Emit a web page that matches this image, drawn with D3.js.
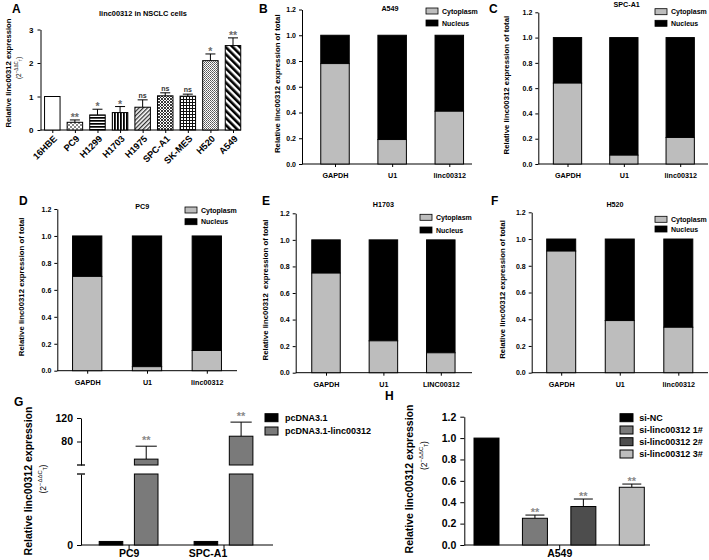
<!DOCTYPE html>
<html><head><meta charset="utf-8">
<script src="https://cdn.jsdelivr.net/npm/d3@7"></script>
<style>
body{margin:0;background:#fff}
svg{display:block}
text{font-family:"Liberation Sans",Arial,sans-serif;font-weight:bold}
</style>
</head><body>
<svg id="c" width="709" height="560"></svg>
<script>
// ---------- DATA ----------
// Panel A
const cellLines = ["16HBE","PC9","H1299","H1703","H1975","SPC-A1","SK-MES","H520","A549"];
const cellExpr  = [1.0, 0.23, 0.45, 0.52, 0.68, 1.02, 1.01, 2.07, 2.52];
const cellErr   = [0, 0.07, 0.17, 0.18, 0.22, 0.09, 0.06, 0.20, 0.23];
const cellSig   = ["", "**", "*", "*", "ns", "ns", "ns", "*", "**"];
const aTicks    = [0, 1, 2, 3];

// Panels B-F (fraction in cytoplasm; nucleus = 1 - cytoplasm)
const fracCats   = ["GAPDH", "U1", "linc00312"];
const fracCatsE  = ["GAPDH", "U1", "LINC00312"];
const cytoA549   = [0.78, 0.19, 0.41];
const cytoSPCA1  = [0.64, 0.07, 0.21];
const cytoPC9    = [0.70, 0.03, 0.15];
const cytoH1703  = [0.75, 0.24, 0.15];
const cytoH520   = [0.91, 0.39, 0.34];
const fracTicks  = [0, 0.2, 0.4, 0.6, 0.8, 1.0, 1.2];
const fracLegend = ["Cytoplasm", "Nucleus"];

// Panel G
const gGroups   = ["PC9", "SPC-A1"];
const gSeries   = ["pcDNA3.1", "pcDNA3.1-linc00312"];
const gCtrl     = [1, 1];
const gOver     = [50, 89];
const gOverErr  = [22, 24];
const gTicksUp  = [80, 120];
const gTicksLow = [0];

// Panel H
const hSeries = ["si-NC", "si-linc00312 1#", "si-linc00312 2#", "si-linc00312 3#"];
const hVals   = [1.0, 0.25, 0.36, 0.54];
const hErr    = [0, 0.03, 0.07, 0.03];
const hSig    = ["", "**", "**", "**"];
const hTicks  = [0, 0.2, 0.4, 0.6, 0.8, 1.0, 1.2];

// ---------- DRAWING ----------
const svg = d3.select("#c");
const defs = svg.append("defs");

function pat(id, w, h, draw, tr){
  const p = defs.append("pattern").attr("id", id).attr("patternUnits","userSpaceOnUse")
    .attr("width", w).attr("height", h);
  if (tr) p.attr("patternTransform", tr);
  p.append("rect").attr("width", w).attr("height", h).attr("fill", "#fff");
  draw(p);
}
pat("p0",4,4,p=>{});
pat("p1",4,4,p=>{p.append("rect").attr("width",2).attr("height",2).attr("fill","#8a8a8a");
                 p.append("rect").attr("x",2).attr("y",2).attr("width",2).attr("height",2).attr("fill","#8a8a8a");});
pat("p2",4,3,p=>{p.append("rect").attr("width",4).attr("height",1.7).attr("fill","#000");});
pat("p3",3,4,p=>{p.append("rect").attr("width",1.8).attr("height",4).attr("fill","#000");});
pat("p4",3,3,p=>{p.append("rect").attr("width",1.3).attr("height",3).attr("fill","#333");},"rotate(45)");
pat("p5",3,3,p=>{p.append("path").attr("d","M0,0L3,3M3,0L0,3").attr("stroke","#222").attr("stroke-width",0.9);});
pat("p6",3,3,p=>{p.append("path").attr("d","M0.5,0V3M0,0.5H3").attr("stroke","#111").attr("stroke-width",1);});
pat("p7",2,2,p=>{p.append("rect").attr("width",1).attr("height",1).attr("fill","#555");
                 p.append("rect").attr("x",1).attr("y",1).attr("width",1).attr("height",1).attr("fill","#777");});
pat("p8",5,5,p=>{p.append("rect").attr("width",2.6).attr("height",5).attr("fill","#000");},"rotate(-45)");
const aFills = ["p0","p1","p2","p3","p4","p5","p6","p7","p8"];

function styleAxis(g, fs){
  g.attr("font-family", null).attr("font-size", null);
  g.selectAll("text").style("font-size", fs + "px").style("font-weight","bold").attr("fill","#000");
  g.selectAll("line,path").attr("stroke","#000").attr("stroke-width",1);
}
function label(x, y, t, fs, anchor){
  return svg.append("text").attr("x",x).attr("y",y).attr("text-anchor",anchor||"start")
    .style("font-size",fs+"px").text(t);
}
function vlabel(x, y, t, fs){
  return svg.append("text").attr("transform",`translate(${x},${y}) rotate(-90)`)
    .attr("text-anchor","middle").attr("dy","0.35em").style("font-size",fs+"px")
    .style("white-space","pre").text(t);
}
function ddct(x, y, fs){
  const t = svg.append("text").attr("transform",`translate(${x},${y}) rotate(-90)`)
    .attr("text-anchor","middle").attr("dy","0.35em").style("font-size",fs+"px").style("font-weight","normal");
  t.append("tspan").text("(2");
  t.append("tspan").attr("dy", -fs*0.45).style("font-size",(fs*0.7)+"px").text("−ΔΔC");
  t.append("tspan").attr("dy", fs*0.6).style("font-size",(fs*0.55)+"px").text("T");
  t.append("tspan").attr("dy", -fs*0.15).text(")");
}

// ===== Panel A =====
(function(){
  const ax = 40.5, y0 = 130, xEnd = 241;
  const y = d3.scaleLinear().domain([0,3]).range([y0, 29.5]);
  const x = d3.scalePoint().domain(cellLines).range([52.3, 233]);
  const bw = 15.5;
  const ga = svg.append("g").attr("transform",`translate(${ax},0)`)
    .call(d3.axisLeft(y).tickValues(aTicks).tickFormat(d3.format("d")).tickSize(3).tickSizeOuter(0).tickPadding(4));
  styleAxis(ga, 8);
  svg.append("line").attr("x1",ax).attr("x2",xEnd).attr("y1",y0).attr("y2",y0).attr("stroke","#000");
  const gx = svg.append("g").attr("transform",`translate(0,${y0})`)
    .call(d3.axisBottom(x).tickSize(3).tickSizeOuter(0).tickFormat(""));
  gx.select(".domain").remove(); styleAxis(gx, 8);
  cellLines.forEach((c,i)=>{
    svg.append("text").attr("transform",`translate(${x(c)+3},${y0+7}) rotate(-45)`)
      .attr("text-anchor","end").attr("dy","0.35em").style("font-size","9.2px").text(c);
    const v = cellExpr[i], e = cellErr[i], cx = x(c);
    if (e > 0){
      svg.append("line").attr("x1",cx).attr("x2",cx).attr("y1",y(v)).attr("y2",y(v+e)).attr("stroke","#000");
      svg.append("line").attr("x1",cx-5).attr("x2",cx+5).attr("y1",y(v+e)).attr("y2",y(v+e)).attr("stroke","#000");
    }
    svg.append("rect").attr("x",cx-bw/2).attr("y",y(v)).attr("width",bw).attr("height",y0-y(v))
      .attr("fill",`url(#${aFills[i]})`).attr("stroke","#000").attr("stroke-width",1);
    if (cellSig[i]){
      const ns = cellSig[i]==="ns";
      svg.append("text").attr("x",cx).attr("y",y(v+e)+(ns?-2.2:1)).attr("text-anchor","middle")
        .attr("fill", ns ? "#333" : "#6a6a6a").style("font-size", ns ? "7px" : "10.5px").text(cellSig[i]);
    }
  });
  label(143, 16, "linc00312 in NSCLC cells", 7.4, "middle");
  label(12, 13, "A", 12);
  vlabel(8, 73, "Relative linc00312 expression", 7.7);
  ddct(18.5, 68, 6.5);
})();

// ===== Panels B-F =====
const fracPanels = [
  {L:"B", lx:259, ly:13, title:"A549",  cats:fracCats,  cyto:cytoA549,  ax:302,   xEnd:472, y0:164,   yT:9.5,   c0:335,   c2:449.3, bw:28.5, tx:390,   ty:10.5, lgx:426, lgy:[11,23],     ylx:277, yl:"Relative linc00312 expression of total"},
  {L:"C", lx:489, ly:13, title:"SPC-A1",cats:fracCats,  cyto:cytoSPCA1, ax:538.3, xEnd:708, y0:164,   yT:12.3,  c0:567.5, c2:680.2, bw:28.3, tx:626.7, ty:7,    lgx:655, lgy:[11.7,23.3], ylx:506, yl:"Relative linc00312 expression of total"},
  {L:"D", lx:19,  ly:205,title:"PC9",   cats:fracCats,  cyto:cytoPC9,   ax:57.3,  xEnd:237, y0:370.7, yT:209,   c0:87.2,  c2:206.8, bw:29.3, tx:142.3, ty:208.5, lgx:185, lgy:[210,221.7],ylx:21.7,yl:"Relative linc00312 expression of total"},
  {L:"E", lx:262, ly:205,title:"H1703", cats:fracCatsE, cyto:cytoH1703, ax:295.7, xEnd:472, y0:372.7, yT:213.3, c0:326,   c2:440.8, bw:28.5, tx:383.3, ty:207, lgx:420, lgy:[217.3,230],ylx:265, yl:"Relative linc00312  expression of total"},
  {L:"F", lx:491, ly:205,title:"H520",  cats:fracCats,  cyto:cytoH520,  ax:531.7, xEnd:708, y0:372.7, yT:212.3, c0:561.2, c2:678.3, bw:29,   tx:615,   ty:207, lgx:655, lgy:[219.3,229], ylx:502, yl:"Relative linc00312 expression of total"}
];
const cytoFill = "#bdbdbd";
fracPanels.forEach(o=>{
  const y = d3.scaleLinear().domain([0,1.2]).range([o.y0, o.yT]);
  const x = d3.scalePoint().domain(o.cats).range([o.c0, o.c2]);
  const ga = svg.append("g").attr("transform",`translate(${o.ax},0)`)
    .call(d3.axisLeft(y).tickValues(fracTicks).tickFormat(d3.format(".1f")).tickSize(3).tickSizeOuter(0).tickPadding(3));
  styleAxis(ga, 7);
  svg.append("line").attr("x1",o.ax).attr("x2",o.xEnd).attr("y1",o.y0).attr("y2",o.y0).attr("stroke","#000");
  const gx = svg.append("g").attr("transform",`translate(0,${o.y0})`)
    .call(d3.axisBottom(x).tickSize(3).tickSizeOuter(0).tickPadding(6));
  gx.select(".domain").remove(); styleAxis(gx, 7.2);
  o.cats.forEach((c,i)=>{
    const cx = x(c), v = o.cyto[i];
    svg.append("rect").attr("x",cx-o.bw/2).attr("y",y(1)).attr("width",o.bw).attr("height",y(v)-y(1))
      .attr("fill","#000").attr("stroke","#000");
    svg.append("rect").attr("x",cx-o.bw/2).attr("y",y(v)).attr("width",o.bw).attr("height",o.y0-y(v))
      .attr("fill",cytoFill).attr("stroke","#000");
  });
  label(o.tx, o.ty, o.title, 7.2, "middle");
  label(o.lx, o.ly, o.L, 12);
  vlabel(o.ylx, (o.y0+o.yT)/2 - 3, o.yl, 7.8);
  fracLegend.forEach((t,i)=>{
    svg.append("rect").attr("x",o.lgx).attr("y",o.lgy[i]-3).attr("width",12).attr("height",6)
      .attr("fill", i===0 ? cytoFill : "#000").attr("stroke","#000").attr("stroke-width",0.8);
    label(o.lgx+16, o.lgy[i]+2.5, t, 7);
  });
});

// ===== Panel G =====
(function(){
  const ax = 81, y0 = 545, xEnd = 273, lowMax = 20, upMin = 40;
  const yU = d3.scaleLinear().domain([upMin,120]).range([465,418]);
  const yL = d3.scaleLinear().domain([0,lowMax]).range([y0,474]);
  const xg = d3.scalePoint().domain(gGroups).range([128.6, 223.5]);
  const xs = d3.scaleBand().domain(gSeries).range([-29.4, 29.4]).paddingInner(0.33);
  const bw = xs.bandwidth();
  const gu = svg.append("g").attr("transform",`translate(${ax},0)`)
    .call(d3.axisLeft(yU).tickValues(gTicksUp).tickSize(4).tickSizeOuter(0).tickPadding(4));
  styleAxis(gu, 10.5);
  const gl = svg.append("g").attr("transform",`translate(${ax},0)`)
    .call(d3.axisLeft(yL).tickValues(gTicksLow).tickSize(4).tickSizeOuter(0).tickPadding(4));
  styleAxis(gl, 10.5);
  [yU.range()[0], yL.range()[1]].forEach(yy=>{
    svg.append("line").attr("x1",ax-4).attr("x2",ax+4).attr("y1",yy).attr("y2",yy).attr("stroke","#000").attr("stroke-width",1.3);
  });
  svg.append("line").attr("x1",ax).attr("x2",xEnd).attr("y1",y0).attr("y2",y0).attr("stroke","#000");
  const gx = svg.append("g").attr("transform",`translate(0,${y0})`)
    .call(d3.axisBottom(xg).tickSize(4).tickSizeOuter(0).tickPadding(1));
  gx.select(".domain").remove(); styleAxis(gx, 10.5);
  gx.selectAll(".tick text").attr("dx", (d,i)=> i===1 ? -16 : 0);
  const fills = ["#000", "#7a7a7a"];
  gGroups.forEach((g,i)=>{
    [gCtrl[i], gOver[i]].forEach((v,s)=>{
      const x0 = xg(g) + xs(gSeries[s]);
      if (v <= lowMax){
        svg.append("rect").attr("x",x0).attr("y",yL(v)).attr("width",bw).attr("height",y0-yL(v))
          .attr("fill",fills[s]).attr("stroke","#000");
      } else {
        const e = gOverErr[i], cx = x0 + bw/2;
        svg.append("line").attr("x1",cx).attr("x2",cx).attr("y1",yU(v)).attr("y2",yU(v+e)).attr("stroke","#000");
        svg.append("line").attr("x1",cx-bw*0.45).attr("x2",cx+bw*0.45).attr("y1",yU(v+e)).attr("y2",yU(v+e)).attr("stroke","#000");
        svg.append("rect").attr("x",x0).attr("y",yL(lowMax)).attr("width",bw).attr("height",y0-yL(lowMax))
          .attr("fill",fills[s]).attr("stroke","#000");
        svg.append("rect").attr("x",x0).attr("y",yU(v)).attr("width",bw).attr("height",yU(upMin)-yU(v))
          .attr("fill",fills[s]).attr("stroke","#000");
        svg.append("text").attr("x",cx).attr("y",yU(v+e)-2).attr("text-anchor","middle")
          .attr("fill","#888").style("font-size","11px").text("**");
      }
    });
  });
  gSeries.forEach((t,i)=>{
    svg.append("rect").attr("x",265).attr("y",[417.7,431][i]-4).attr("width",13).attr("height",8)
      .attr("fill",fills[i]).attr("stroke","#000");
    label(285, [417.7,431][i]+3.3, t, 9);
  });
  label(14, 406, "G", 12);
  vlabel(28, 481, "Relative linc00312 expression", 10.5);
  ddct(43, 479, 8.5);
})();

// ===== Panel H =====
(function(){
  const ax = 464.3, y0 = 545, xEnd = 650;
  const y = d3.scaleLinear().domain([0,1.2]).range([y0, 416.7]);
  const x = d3.scalePoint().domain(hSeries).range([486.5, 631.8]);
  const bw = 25;
  const ga = svg.append("g").attr("transform",`translate(${ax},0)`)
    .call(d3.axisLeft(y).tickValues(hTicks).tickFormat(d3.format(".1f")).tickSize(4).tickSizeOuter(0).tickPadding(4));
  styleAxis(ga, 10.5);
  svg.append("line").attr("x1",ax).attr("x2",xEnd).attr("y1",y0).attr("y2",y0).attr("stroke","#000");
  const xc = d3.scalePoint().domain(["A549"]).range([559.2,559.2]);
  const gx = svg.append("g").attr("transform",`translate(0,${y0})`)
    .call(d3.axisBottom(xc).tickSize(4).tickSizeOuter(0).tickPadding(1));
  gx.select(".domain").remove(); styleAxis(gx, 10.5);
  const fills = ["#000","#7a7a7a","#4d4d4d","#bdbdbd"];
  hSeries.forEach((s,i)=>{
    const cx = x(s), v = hVals[i], e = hErr[i];
    if (e > 0){
      svg.append("line").attr("x1",cx).attr("x2",cx).attr("y1",y(v)).attr("y2",y(v+e)).attr("stroke","#000");
      svg.append("line").attr("x1",cx-bw*0.38).attr("x2",cx+bw*0.38).attr("y1",y(v+e)).attr("y2",y(v+e)).attr("stroke","#000");
    }
    svg.append("rect").attr("x",cx-bw/2).attr("y",y(v)).attr("width",bw).attr("height",y0-y(v))
      .attr("fill",fills[i]).attr("stroke","#000");
    if (hSig[i]) svg.append("text").attr("x",cx).attr("y",y(v+e)+1).attr("text-anchor","middle")
      .attr("fill","#888").style("font-size","11px").text(hSig[i]);
    const ly = [417.7,430,441.7,454][i];
    svg.append("rect").attr("x",620).attr("y",ly-4).attr("width",13).attr("height",8)
      .attr("fill",fills[i]).attr("stroke","#000");
    label(639.3, ly+3.3, s, 9);
  });
  label(385, 400, "H", 12);
  vlabel(409.3, 479, "Relative linc00312 expression", 10.5);
  ddct(424, 455.5, 8.5);
})();
</script>
</body></html>
